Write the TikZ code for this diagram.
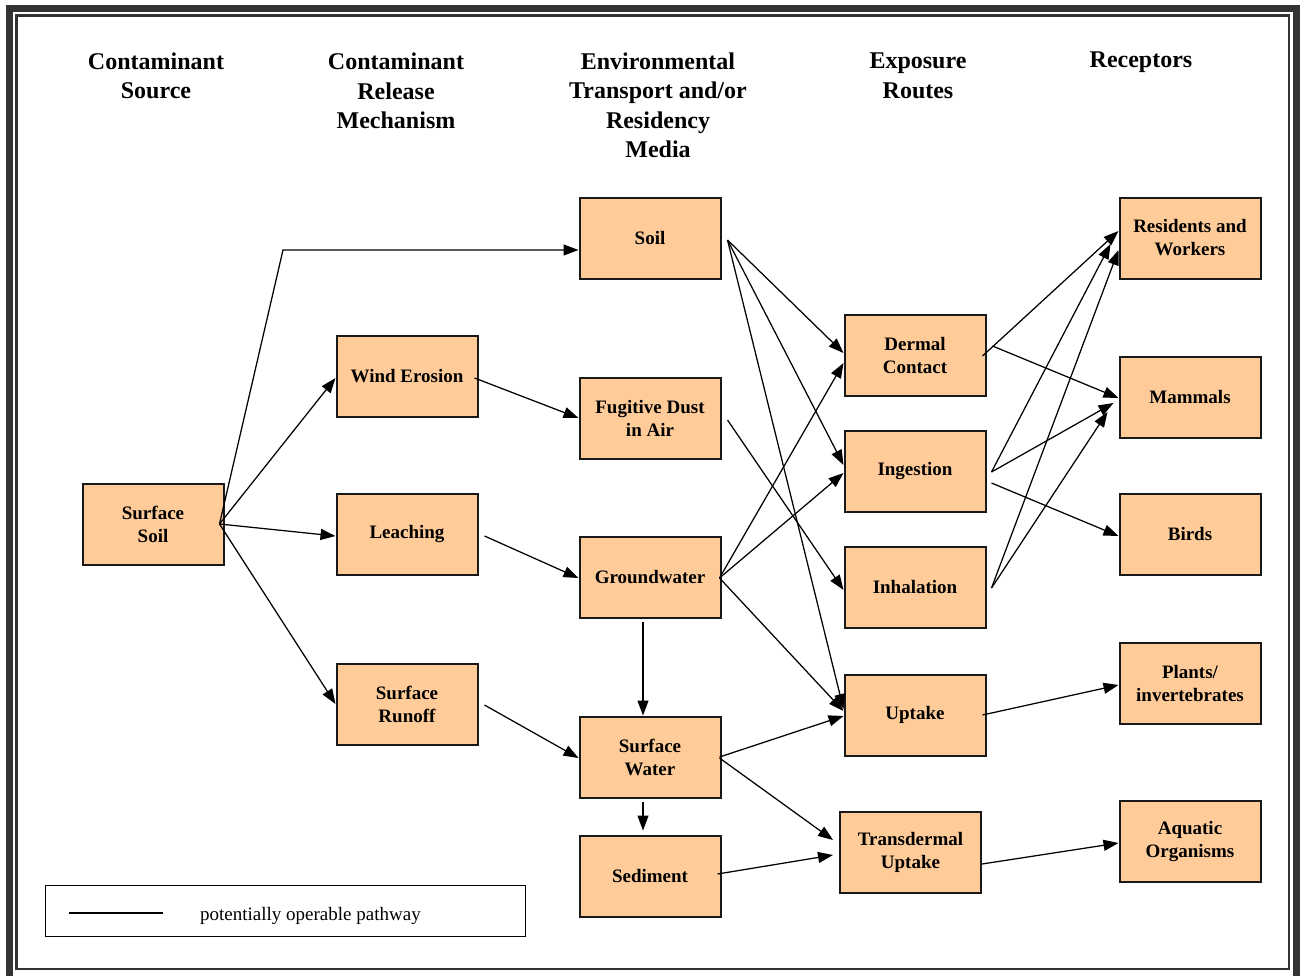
\documentclass[tikz,border=0pt]{standalone}
\usepackage{fontspec}
\setmainfont{Liberation Serif}
\usetikzlibrary{arrows.meta,calc}
\definecolor{peach}{HTML}{FFCC99}
\definecolor{framec}{HTML}{333333}
\begin{document}
\begin{tikzpicture}[x=1pt,y=-1pt,
 box/.style={draw=black!90,line width=2pt,fill=peach,minimum width=141pt,minimum height=81pt,inner sep=0pt,align=center,font=\fontsize{19}{23}\selectfont\bfseries},
 hdr/.style={align=center,inner sep=0pt,font=\fontsize{24}{29.5}\selectfont\bfseries},
 arr/.style={line width=1.25pt,-{Triangle[length=15pt,width=11pt]}},
 ]
\useasboundingbox (0,0) rectangle (1304,975);
\fill[white] (0,0) rectangle (1304,975);
\draw[framec,line width=7pt] (9.5,8.5) rectangle (1296,979);
\draw[framec,line width=2.5pt] (16.5,15.5) rectangle (1289,969);

% headers
\node[hdr] (h1) at (156,76) {Contaminant\\Source};
\node[hdr] (h2) at (396,91) {Contaminant\\Release\\Mechanism};
\node[hdr] (h3) at (658,105.5) {Environmental\\Transport and/or\\Residency\\Media};
\node[hdr] (h4) at (918,76) {Exposure\\Routes};
\node[hdr] (h5) at (1141,62.5) {Receptors};

% boxes
\node[box] (ss) at (153,524) {Surface\\Soil};
\node[box] (we) at (407,376) {Wind Erosion};
\node[box] (le) at (407,534) {Leaching};
\node[box] (sr) at (407,704) {Surface\\Runoff};
\node[box] (so) at (650,238) {Soil};
\node[box] (fd) at (650,418) {Fugitive Dust\\in Air};
\node[box] (gw) at (650,577) {Groundwater};
\node[box] (sw) at (650,757) {Surface\\Water};
\node[box] (se) at (650,876) {Sediment};
\node[box] (dc) at (915,355) {Dermal\\Contact};
\node[box] (in) at (915,471) {Ingestion};
\node[box] (ih) at (915,587) {Inhalation};
\node[box] (up) at (915,715) {Uptake};
\node[box] (tu) at (910.5,852) {Transdermal\\Uptake};
\node[box] (rw) at (1190,238) {Residents and\\Workers};
\node[box] (ma) at (1190,397) {Mammals};
\node[box] (bi) at (1190,534) {Birds};
\node[box] (pl) at (1190,683) {Plants/\\invertebrates};
\node[box] (ao) at (1190,841) {Aquatic\\Organisms};

% connectors
\coordinate (bend) at (283,250);
\draw[arr] ($(ss.east)+(-5,0)$) -- (bend) -- ($(so.west)+(0,12)$);
\draw[arr] ($(ss.east)+(-5,0)$) -- ($(we.west)+(0,2)$);
\draw[arr] ($(ss.east)+(-5,0)$) -- ($(le.west)+(0,2)$);
\draw[arr] ($(ss.east)+(-5,0)$) -- (sr.west);
\draw[arr] ($(we.east)+(-4,2)$) -- (fd.west);
\draw[arr] ($(le.east)+(6,2)$) -- ($(gw.west)+(0,1)$);
\draw[arr] ($(sr.east)+(6,1)$) -- ($(sw.west)+(0,1)$);
\draw[arr] ($(gw.south)+(-7,3)$) -- ($(sw.north)+(-7,0)$);
\draw[arr] ($(sw.south)+(-7,3)$) -- ($(se.north)+(-7,-4)$);

\draw[arr] ($(so.east)+(6,2)$) -- ($(dc.west)+(0,-2)$);
\draw[arr] ($(so.east)+(6,2)$) -- ($(in.west)+(0,-6)$);
\draw[arr] ($(so.east)+(6,2)$) -- ($(up.west)+(0,-6)$);
\draw[arr] ($(fd.east)+(6,2)$) -- ($(ih.west)+(0,3)$);
\draw[arr] ($(gw.east)+(-2,1)$) -- ($(dc.west)+(0,8)$);
\draw[arr] ($(gw.east)+(-2,1)$) -- ($(in.west)+(0,2)$);
\draw[arr] ($(gw.east)+(-2,1)$) -- ($(up.west)+(0,-4)$);
\draw[arr] ($(sw.east)+(-2,0)$) -- ($(up.west)+(0,1)$);
\draw[arr] ($(sw.east)+(-2,1)$) -- ($(tu.west)+(-6,-12)$);
\draw[arr] ($(se.east)+(-4,-2)$) -- ($(tu.west)+(-6,3)$);

\draw[arr] ($(dc.east)+(-4,1)$) -- ($(rw.west)+(0,-7)$);
\draw[arr] ($(dc.east)+(6,-9)$) -- ($(ma.west)+(0,1)$);
\draw[arr] ($(in.east)+(5,1)$) -- ($(rw.west)+(-8,6)$);
\draw[arr] ($(in.east)+(5,1)$) -- ($(ma.west)+(-5,6)$);
\draw[arr] ($(in.east)+(5,12)$) -- ($(bi.west)+(0,2)$);
\draw[arr] ($(ih.east)+(5,1)$) -- ($(rw.west)+(0,12)$);
\draw[arr] ($(ih.east)+(5,1)$) -- ($(ma.west)+(-11,15)$);
\draw[arr] ($(up.east)+(-4,0)$) -- ($(pl.west)+(0,2)$);
\draw[arr] ($(tu.east)+(0,12)$) -- ($(ao.west)+(0,2)$);

% legend
\node[draw,line width=1.3pt,minimum width=480pt,minimum height=51pt,inner sep=0pt] (leg) at (285.5,911) {};
\coordinate (l1) at (69,913);
\coordinate (l2) at (163,913);
\draw[line width=1.3pt] (l1) -- (l2);
\node[anchor=west,inner sep=0pt,font=\fontsize{19}{23}\selectfont] (legt) at (200,916) {potentially operable pathway};
\end{tikzpicture}
\end{document}
